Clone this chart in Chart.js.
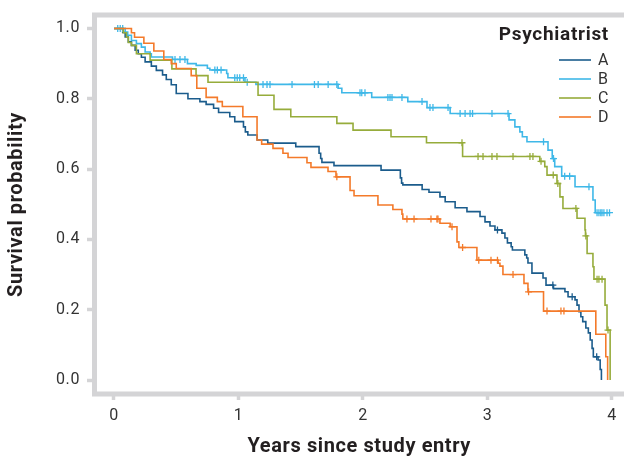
<!DOCTYPE html>
<html><head><meta charset="utf-8">
<script src="https://cdn.jsdelivr.net/npm/chart.js@4.4.1/dist/chart.umd.min.js"></script>
<style>html,body{margin:0;padding:0;background:#fff;}#wrap{width:624px;height:459px;position:relative}</style>
</head><body><div id="wrap"><canvas id="c" width="624" height="459"></canvas></div>
<script>
// ---------- data ----------
const seriesNames = ['A', 'B', 'C', 'D'];
const legendTitle = 'Psychiatrist';
const xTitle = 'Years since study entry';
const yTitle = 'Survival probability';
const xTicks = [0, 1, 2, 3, 4];
const yTicks = [0, 0.2, 0.4, 0.6, 0.8, 1.0];

const timesA = [0, 0.07, 0.09, 0.115, 0.14, 0.17, 0.195, 0.22, 0.25, 0.30, 0.34, 0.39, 0.42, 0.46, 0.50, 0.594, 0.69, 0.74, 0.80, 0.84, 0.93, 0.97, 1.04, 1.055, 1.075, 1.15, 1.235, 1.46, 1.647, 1.66, 1.67, 1.767, 2.145, 2.30, 2.31, 2.32, 2.475, 2.53, 2.618, 2.66, 2.74, 2.835, 2.94, 2.98, 3.02, 3.06, 3.116, 3.14, 3.16, 3.19, 3.20, 3.30, 3.315, 3.325, 3.357, 3.446, 3.47, 3.53, 3.622, 3.647, 3.703, 3.719, 3.735, 3.75, 3.765, 3.79, 3.81, 3.825, 3.84, 3.85, 3.888, 3.905, 3.915];
const survA = [1, 0.989, 0.976, 0.962, 0.952, 0.938, 0.928, 0.918, 0.905, 0.893, 0.881, 0.868, 0.855, 0.84, 0.815, 0.80, 0.792, 0.784, 0.773, 0.761, 0.749, 0.735, 0.72, 0.706, 0.697, 0.683, 0.674, 0.664, 0.645, 0.63, 0.619, 0.61, 0.597, 0.575, 0.56, 0.555, 0.542, 0.534, 0.521, 0.507, 0.49, 0.479, 0.465, 0.45, 0.438, 0.427, 0.418, 0.404, 0.39, 0.379, 0.37, 0.356, 0.347, 0.333, 0.304, 0.29, 0.27, 0.26, 0.251, 0.237, 0.228, 0.213, 0.194, 0.18, 0.166, 0.148, 0.134, 0.114, 0.09, 0.066, 0.057, 0.03, 0];
const censorA = [3.08, 3.525, 3.68, 3.877];

const timesB = [0, 0.09, 0.11, 0.14, 0.18, 0.22, 0.25, 0.29, 0.30, 0.47, 0.59, 0.66, 0.75, 0.77, 0.905, 0.915, 1.052, 1.14, 1.80, 1.83, 2.07, 2.36, 2.514, 2.70, 3.173, 3.22, 3.26, 3.28, 3.317, 3.486, 3.52, 3.54, 3.596, 3.703, 3.847, 3.865, 3.985];
const survB = [1, 0.99, 0.981, 0.966, 0.957, 0.947, 0.933, 0.928, 0.919, 0.912, 0.90, 0.895, 0.887, 0.882, 0.872, 0.86, 0.847, 0.841, 0.83, 0.817, 0.804, 0.792, 0.775, 0.758, 0.74, 0.72, 0.706, 0.692, 0.678, 0.654, 0.63, 0.607, 0.58, 0.55, 0.512, 0.476, 0.476];
const censorB = [0.03, 0.05, 0.07, 0.49, 0.53, 0.57, 0.81, 0.83, 0.86, 0.97, 0.99, 1.01, 1.04, 1.07, 1.197, 1.229, 1.253, 1.43, 1.61, 1.64, 1.72, 1.79, 1.976, 1.99, 2.016, 2.20, 2.217, 2.233, 2.313, 2.474, 2.538, 2.562, 2.683, 2.78, 2.82, 2.86, 2.88, 3.036, 3.165, 3.45, 3.53, 3.62, 3.66, 3.815, 3.88, 3.895, 3.91, 3.92, 3.935, 3.96, 3.98];

const timesC = [0, 0.075, 0.10, 0.115, 0.14, 0.18, 0.29, 0.465, 0.659, 0.755, 1.157, 1.285, 1.42, 1.79, 1.92, 2.225, 2.51, 2.80, 3.42, 3.46, 3.478, 3.558, 3.582, 3.606, 3.719, 3.783, 3.787, 3.80, 3.847, 3.855, 3.944, 3.96, 3.985];
const survC = [1, 0.988, 0.975, 0.96, 0.952, 0.928, 0.91, 0.885, 0.866, 0.847, 0.81, 0.77, 0.749, 0.73, 0.711, 0.692, 0.675, 0.636, 0.622, 0.607, 0.583, 0.559, 0.521, 0.488, 0.46, 0.427, 0.41, 0.36, 0.322, 0.287, 0.213, 0.142, 0];
const censorC = [2.795, 2.924, 2.964, 3.036, 3.076, 3.205, 3.341, 3.365, 3.43, 3.528, 3.565, 3.71, 3.79, 3.88, 3.895, 3.92, 3.968];

const timesD = [0, 0.14, 0.165, 0.24, 0.32, 0.40, 0.46, 0.50, 0.62, 0.665, 0.74, 0.83, 0.87, 1.035, 1.149, 1.186, 1.277, 1.357, 1.398, 1.55, 1.582, 1.719, 1.783, 1.896, 1.928, 2.12, 2.24, 2.313, 2.32, 2.618, 2.70, 2.755, 2.77, 2.915, 3.085, 3.10, 3.124, 3.293, 3.325, 3.45, 3.87, 3.95, 3.965];
const survD = [1, 0.988, 0.975, 0.958, 0.936, 0.912, 0.90, 0.886, 0.866, 0.83, 0.804, 0.792, 0.778, 0.749, 0.683, 0.671, 0.659, 0.645, 0.633, 0.618, 0.605, 0.593, 0.578, 0.539, 0.524, 0.498, 0.485, 0.472, 0.458, 0.446, 0.436, 0.393, 0.377, 0.341, 0.332, 0.324, 0.30, 0.275, 0.251, 0.196, 0.13, 0.066, 0];
const censorD = [1.79, 2.353, 2.41, 2.546, 2.594, 2.602, 2.715, 2.80, 2.93, 3.028, 3.08, 3.205, 3.33, 3.478, 3.59, 3.614];

// ---------- styles ----------
const colors = ['#1b5c8c', '#3fb8e8', '#96ac3b', '#f47a2a'];
const frameColor = '#d4d4d6';
const FONT = "Roboto, 'DejaVu Sans', sans-serif";

const allTimes = [timesA, timesB, timesC, timesD];
const allSurv = [survA, survB, survC, survD];
const allCensor = [censorA, censorB, censorC, censorD];

function stepValue(times, surv, t) {
  let v = surv[0];
  for (let i = 0; i < times.length; i++) { if (times[i] <= t) v = surv[i]; else break; }
  return v;
}

const datasets = [];
seriesNames.forEach((name, i) => {
  datasets.push({
    label: name,
    data: allTimes[i].map((t, k) => ({x: t, y: allSurv[i][k]})),
    borderColor: colors[i], backgroundColor: colors[i],
    borderWidth: 1.6, stepped: 'before', pointRadius: 0, fill: false, order: 4 - i
  });
  datasets.push({
    label: name + ' censored',
    data: allCensor[i].map(t => ({x: t, y: stepValue(allTimes[i], allSurv[i], t)})),
    borderColor: colors[i], backgroundColor: colors[i],
    showLine: false, pointStyle: 'cross', pointRadius: 3.5, pointBorderWidth: 1.3, order: 4 - i
  });
});

const spacingPlugin = {
  id: 'spacing',
  beforeDraw(chart) { chart.ctx.letterSpacing = '0.6px'; }
};

const framePlugin = {
  id: 'frame',
  beforeDatasetsDraw(chart) {
    const a = chart.chartArea, ctx = chart.ctx;
    ctx.save();
    ctx.strokeStyle = frameColor; ctx.lineWidth = 5; ctx.lineJoin = 'miter';
    ctx.beginPath();
    ctx.moveTo(chart.width + 10, a.top);
    ctx.lineTo(a.left, a.top);
    ctx.lineTo(a.left, a.bottom);
    ctx.lineTo(chart.width + 10, a.bottom);
    ctx.stroke();
    ctx.restore();
  }
};

const legendPlugin = {
  id: 'kmLegend',
  afterDatasetsDraw(chart) {
    const ctx = chart.ctx;
    ctx.save();
    ctx.letterSpacing = '0.7px';
    ctx.fillStyle = '#231f20';
    ctx.font = 'bold 19px ' + FONT;
    ctx.textAlign = 'right'; ctx.textBaseline = 'alphabetic';
    ctx.fillText(legendTitle, 609, 40);
    ctx.font = '16px ' + FONT;
    ctx.textAlign = 'left'; ctx.textBaseline = 'middle';
    seriesNames.forEach((n, i) => {
      const y = 60 + i * 19;
      ctx.strokeStyle = colors[i]; ctx.lineWidth = 1.6;
      ctx.beginPath(); ctx.moveTo(559, y); ctx.lineTo(591, y); ctx.stroke();
      ctx.fillStyle = '#333';
      ctx.fillText(n, 598, y + 1);
    });
    ctx.restore();
  }
};

new Chart(document.getElementById('c'), {
  type: 'line',
  data: {datasets},
  options: {
    responsive: false, animation: false,
    layout: {autoPadding: false, padding: {top: 15, left: 0, right: 0, bottom: 0}},
    plugins: {legend: {display: false}, tooltip: {enabled: false}},
    scales: {
      x: {
        type: 'linear', min: -0.1566, max: 4.0964,
        afterBuildTicks(s) { s.ticks = xTicks.map(v => ({value: v})); },
        afterFit(s) { s.height = 65; s.paddingLeft = 0; s.paddingRight = 0; },
        grid: {drawOnChartArea: false, drawTicks: true, tickLength: 6, tickWidth: 3.5, tickColor: frameColor},
        border: {display: false},
        ticks: {padding: 6, color: '#333', font: {family: FONT, size: 16}, maxRotation: 0, callback: v => String(v)},
        title: {display: true, text: xTitle, color: '#231f20', font: {family: FONT, size: 20, weight: 'bold', lineHeight: 1}, padding: {top: 0, bottom: 2}}
      },
      y: {
        type: 'linear', min: -0.0398, max: 1.0384,
        afterBuildTicks(s) { s.ticks = yTicks.map(v => ({value: v})); },
        afterFit(s) { s.width = 94.5; s.paddingTop = 0; s.paddingBottom = 0; },
        grid: {drawOnChartArea: false, drawTicks: true, tickLength: 7.5, tickWidth: 3.5, tickColor: frameColor},
        border: {display: false},
        ticks: {padding: 7, color: '#333', font: {family: FONT, size: 16}, callback: v => v.toFixed(1)},
        title: {display: true, text: yTitle, color: '#231f20', font: {family: FONT, size: 20, weight: 'bold', lineHeight: 1}, padding: {top: 7, bottom: 0}}
      }
    }
  },
  plugins: [spacingPlugin, framePlugin, legendPlugin]
});
</script></body></html>
